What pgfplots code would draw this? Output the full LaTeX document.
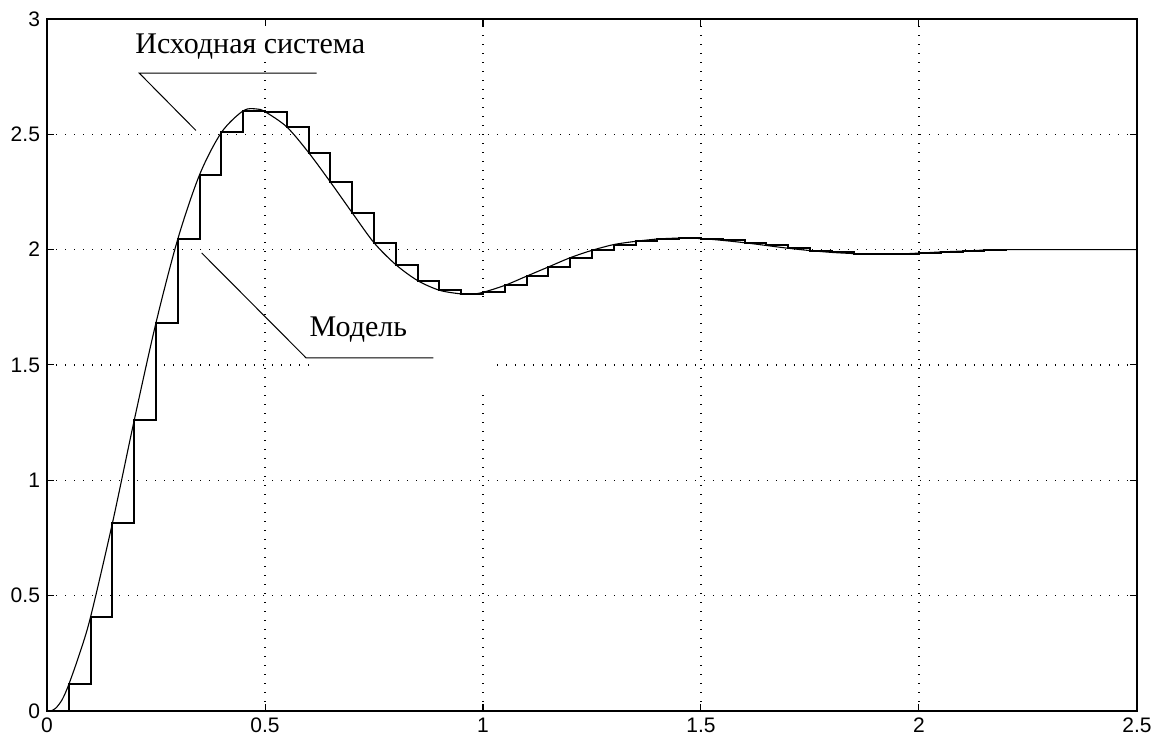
\documentclass[border=0pt]{standalone}
\usepackage{fontspec}
\setmainfont{Liberation Serif}
\newfontfamily\ticksf{Liberation Sans}
\usepackage{pgfplots}
\usepackage{pgfplotstable}
\pgfplotsset{compat=1.18}

% sampled values (zero-order hold model), T = 0.05
\pgfplotstableread{
t y
0.00 0.000
0.05 0.115
0.10 0.408
0.15 0.814
0.20 1.260
0.25 1.683
0.30 2.046
0.35 2.325
0.40 2.508
0.45 2.602
0.50 2.598
0.55 2.532
0.60 2.421
0.65 2.293
0.70 2.160
0.75 2.030
0.80 1.935
0.85 1.866
0.90 1.824
0.95 1.808
1.00 1.815
1.05 1.845
1.10 1.885
1.15 1.925
1.20 1.965
1.25 1.997
1.30 2.022
1.35 2.036
1.40 2.046
1.45 2.050
1.50 2.048
1.55 2.040
1.60 2.030
1.65 2.018
1.70 2.006
1.75 1.996
1.80 1.988
1.85 1.983
1.90 1.980
1.95 1.981
2.00 1.985
2.05 1.990
2.10 1.994
2.15 1.998
2.20 2.000
}\modeltab

% continuous (original system) response
\pgfplotstableread{
t y
0.000 0.000
0.008 0.000
0.020 0.012
0.035 0.050
0.050 0.115
0.075 0.250
0.100 0.408
0.150 0.814
0.200 1.260
0.250 1.683
0.300 2.046
0.350 2.325
0.400 2.508
0.450 2.602
0.480 2.610
0.500 2.598
0.550 2.532
0.600 2.421
0.650 2.293
0.700 2.160
0.750 2.030
0.800 1.935
0.850 1.866
0.900 1.824
0.950 1.808
0.975 1.807
1.000 1.815
1.050 1.845
1.100 1.885
1.150 1.925
1.200 1.965
1.250 1.997
1.300 2.022
1.350 2.036
1.400 2.046
1.450 2.050
1.500 2.048
1.550 2.040
1.600 2.030
1.650 2.018
1.700 2.006
1.750 1.996
1.800 1.988
1.850 1.983
1.900 1.980
1.950 1.981
2.000 1.985
2.050 1.990
2.100 1.994
2.150 1.998
2.200 2.000
2.300 2.000
2.400 2.000
2.500 2.000
}\systab

\begin{document}
\begin{tikzpicture}
\begin{axis}[
  scale only axis,
  width=545pt, height=346pt,
  xmin=0, xmax=2.5, ymin=0, ymax=3,
  xtick={0,0.5,1,1.5,2,2.5},
  ytick={0,0.5,1,1.5,2,2.5,3},
  grid=major,
  major grid style={black, line width=0.6pt, dash pattern=on 0.6pt off 3.9pt},
  tick align=inside,
  major tick length=3.5pt,
  tick style={black, line width=0.5pt},
  axis line style={line width=0.6pt},
  /pgf/number format/assume math mode=true,
  tick label style={font=\ticksf\fontsize{10.5}{12}\selectfont},
  clip=false,
]
% white background boxes of the text labels (they hide the grid)
\fill[white] (axis cs:0.19,2.83) rectangle (axis cs:0.73,2.97);
\fill[white] (axis cs:0.603,1.381) rectangle (axis cs:1.032,1.771);

\addplot[black, line width=0.55pt, smooth, tension=0.5] table[x=t,y=y]{\systab};
\addplot[black, line width=1pt, const plot mark left] table[x=t,y=y]{\modeltab};

% annotations
\node[anchor=base west, inner sep=0pt, font=\fontsize{15}{18}\selectfont]
  at (axis cs:0.2018,2.8515) {Исходная система};
\draw[line width=0.5pt] (axis cs:0.3417,2.5165) -- (axis cs:0.2117,2.765) -- (axis cs:0.6186,2.765);
\node[anchor=base west, inner sep=0pt, font=\fontsize{15}{18}\selectfont]
  at (axis cs:0.6016,1.622) {Модель};
\draw[line width=0.5pt] (axis cs:0.3548,1.9857) -- (axis cs:0.594,1.5312) -- (axis cs:0.886,1.5312);

\coordinate (bbl) at (axis cs:-0.1078,-0.1299);
\coordinate (btr) at (axis cs:2.5528,3.0823);
\end{axis}
\pgfresetboundingbox
\path (bbl) rectangle (btr);
\end{tikzpicture}
\end{document}
